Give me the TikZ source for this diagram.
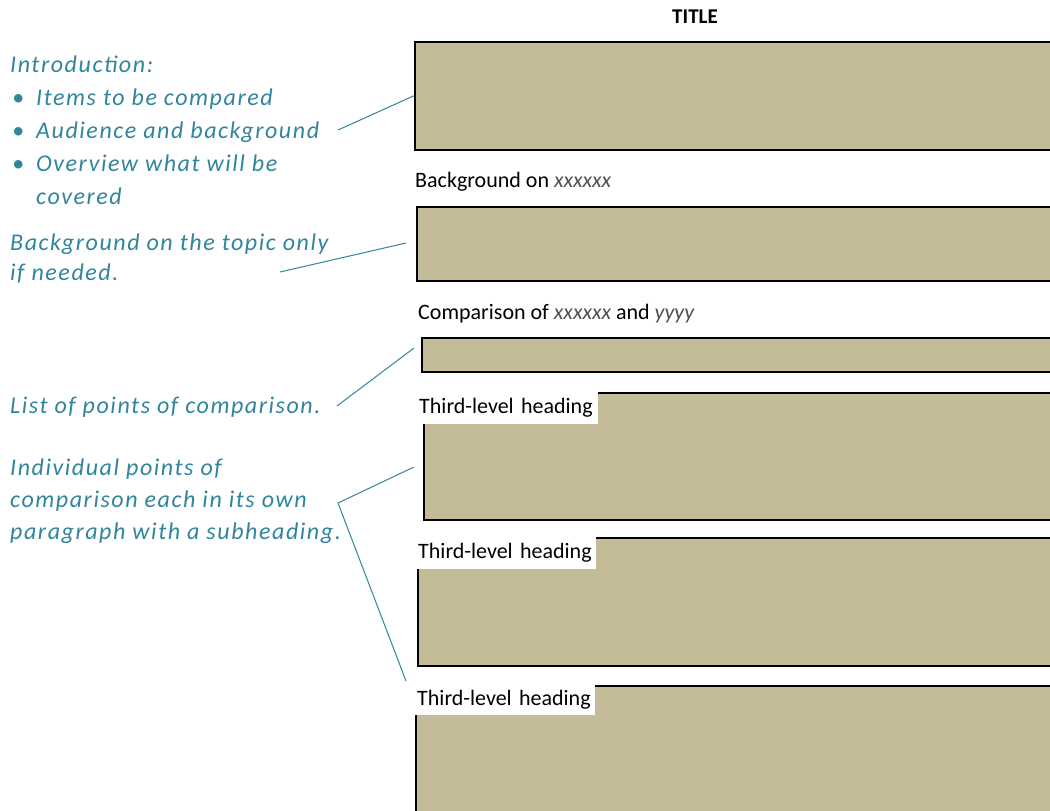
\documentclass[tikz,border=0pt]{standalone}
\usepackage{fontspec}
\setmainfont{Carlito}
\newfontfamily\notefont[LetterSpace=6.5]{Carlito}
\definecolor{noteteal}{RGB}{49,133,156}
\definecolor{boxtan}{RGB}{196,188,152}
\definecolor{xgray}{RGB}{80,80,80}
\begin{document}
\begin{tikzpicture}[x=1pt,y=-1pt,
  note/.style={anchor=base west,inner sep=0pt,text=noteteal,font=\notefont\itshape\fontsize{24}{28}\selectfont},
  lbl/.style={anchor=base west,inner sep=0pt,font=\fontsize{22}{26}\selectfont},
  tanbox/.style={anchor=north west,draw=black,line width=1.5pt,fill=boxtan,minimum width=660pt,inner sep=0pt},
  patch/.style={anchor=north west,fill=white,inner sep=0pt,minimum width=182pt,minimum height=32pt,text width=180pt,align=left,font=\fontsize{22}{26}\selectfont},
  conn/.style={draw=noteteal,line width=1pt}]
\clip (0,0) rectangle (1050,811);
\fill[white] (0,0) rectangle (1050,811);

% title
\node[inner sep=0pt,font=\bfseries\fontsize{21}{24}\selectfont] (title) at (695,17) {TITLE};

% boxes
\node[tanbox,minimum height=108pt] (b1) at (414,41) {};
\node[lbl] (l2) at (415,187) {Background on \textit{\color{xgray}xxxxxx}};
\node[tanbox,minimum height=74pt] (b2) at (416,206) {};
\node[lbl] (l3) at (418,319) {Comparison of \textit{\color{xgray}xxxxxx} and \textit{\color{xgray}yyyy}};
\node[tanbox,minimum height=34pt] (b3) at (421,337) {};
\node[tanbox,minimum height=127pt] (b4) at (423,392) {};
\node[patch] (h4) at (416,392) {\hspace*{2pt}Third-level heading};
\node[tanbox,minimum height=128pt] (b5) at (417,537) {};
\node[patch] (h5) at (414,537) {\hspace*{3pt}Third-level heading};
\node[tanbox,minimum height=140pt] (b6) at (415,685) {};
\node[patch,minimum height=30pt] (h6) at (413,685) {\hspace*{3pt}Third-level heading};

% notes
\node[note] (n1) at (10,72) {Introduction:};
\node[note] (n1a) at (12,105) {\textbullet};
\node[note] (n1b) at (36,105) {Items to be compared};
\node[note] (n1c) at (12,138) {\textbullet};
\node[note] (n1d) at (36,138) {Audience and background};
\node[note] (n1e) at (12,171) {\textbullet};
\node[note] (n1f) at (36,171) {Overview what will be};
\node[note] (n1g) at (36,204) {covered};
\node[note] (n2) at (10,250) {Background on the topic only};
\node[note] (n2b) at (10,280) {if needed.};
\node[note] (n3) at (10,413) {List of points of comparison.};
\node[note] (n4) at (10,475) {Individual points of};
\node[note] (n4b) at (10,507) {comparison each in its own};
\node[note] (n4c) at (10,539) {paragraph with a subheading.};

% connector ends
\coordinate (c1) at (338,130);
\coordinate (c2) at (280,272);
\coordinate (c3) at (337,406);
\coordinate (c4) at (338,503);
\coordinate (e2) at (406,243);
\coordinate (e3) at (414,348);
\coordinate (e4) at (414,467);
\coordinate (e5) at (406,681);

\draw[conn] (c1) -- (b1.west);
\draw[conn] (c2) -- (e2);
\draw[conn] (c3) -- (e3);
\draw[conn] (e4) -- (c4) -- (e5);
\end{tikzpicture}
\end{document}
